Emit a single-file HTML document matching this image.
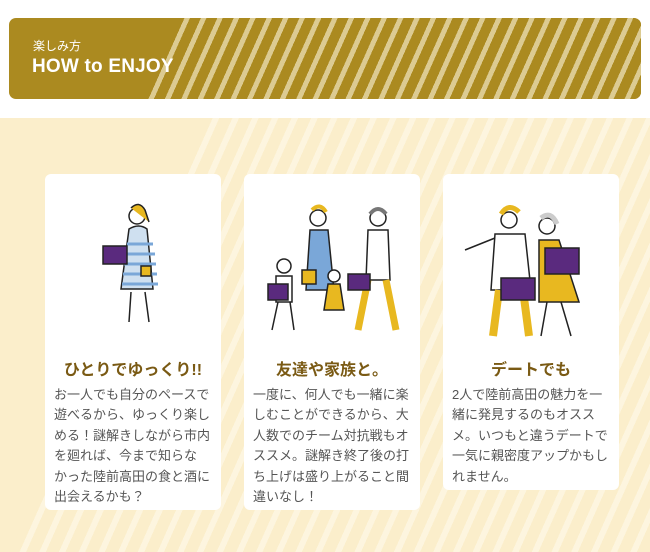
<!DOCTYPE html>
<html><head><meta charset="utf-8"><style>
*{margin:0;padding:0;box-sizing:border-box}
body{width:650px;height:552px;background:#fff;position:relative;overflow:hidden;font-family:"Liberation Sans","Noto Sans CJK JP",sans-serif}
.banner{position:absolute;left:9px;top:18px;width:632px;height:81px;border-radius:7px;background:#ab8a20;overflow:hidden}
.bstr{position:absolute;left:0;top:0;width:632px;height:81px;background:repeating-linear-gradient(-66deg,#ab8a20 0 10px,#dccb92 10px 15px);clip-path:polygon(167px 0,632px 0,632px 81px,132px 81px)}
.sub{position:absolute;left:24px;top:19px;color:#fff;font-size:12px}
.ttl{position:absolute;left:23px;top:38px;color:#fff;font-size:19px;font-weight:bold;letter-spacing:.2px}
.lower{position:absolute;left:0;top:118px;width:650px;height:434px;background:repeating-linear-gradient(-66deg,#fbeecb 0 12px,#fdf5df 12px 18px)}
.lower:before{content:"";position:absolute;left:0;top:0;width:200px;height:434px;background:#fbeecb;clip-path:polygon(0 0,200px 0,10px 434px,0 434px)}
.card{position:absolute;background:#fff;border-radius:6px;width:176px}
.card h3{position:absolute;left:0;width:176px;top:182px;text-align:center;color:#7a5a14;font-size:16px;font-weight:bold}
.card p{position:absolute;left:9px;top:211px;width:166px;color:#555;font-size:13px;line-height:20.4px;white-space:nowrap}
svg{position:absolute;left:0;top:0}
</style></head><body>
<div class="banner"><div class="bstr"></div><div class="sub">楽しみ方</div><div class="ttl">HOW to ENJOY</div></div>
<div class="lower"></div>
<div class="card" style="left:45px;top:174px;height:336px">
<svg width="176" height="170"><g stroke="#222" stroke-width="1.5" fill="none">
<circle cx="92" cy="42" r="8" fill="#fff"/><path d="M86 34 q8-8 14 2 l4 12" fill="#e8b820"/>
<path d="M84 55 q10-6 18 0 l6 60 h-32z" fill="#cfe0f0"/>
<path d="M82 70 h26 M80 80 h30 M79 90 h32 M78 100 h34 M77 110 h36" stroke="#7aa7d8" stroke-width="3"/>
<path d="M86 118 l-2 30 M100 118 l4 30"/><rect x="58" y="72" width="24" height="18" fill="#5a2a7e"/>
<rect x="96" y="92" width="10" height="10" fill="#e8b820"/></g></svg>
<h3>ひとりでゆっくり!!</h3><p>お一人でも自分のペースで<br>遊べるから、ゆっくり楽し<br>める！謎解きしながら市内<br>を廻れば、今まで知らな<br>かった陸前高田の食と酒に<br>出会えるかも？</p></div>
<div class="card" style="left:244px;top:174px;height:336px">
<svg width="176" height="170"><g stroke="#222" stroke-width="1.5" fill="none">
<circle cx="74" cy="44" r="8" fill="#fff"/><path d="M68 36 q8-8 14 2" stroke="#e8b820" stroke-width="4"/>
<path d="M66 56 h18 l6 60 h-28z" fill="#7aa7d8"/>
<circle cx="134" cy="44" r="8" fill="#fff"/><path d="M126 40 q8-10 16 0" stroke="#777" stroke-width="4"/>
<path d="M124 56 h20 l2 50 h-24z" fill="#fff"/><path d="M124 106 l-10 50 M142 106 l10 50" stroke="#e8b820" stroke-width="7"/>
<circle cx="40" cy="92" r="7" fill="#fff"/><path d="M32 102 h16 v26 h-16z" fill="#fff"/><path d="M34 128 l-6 28 M46 128 l4 28"/>
<circle cx="90" cy="102" r="6" fill="#fff"/><path d="M84 110 h12 l4 26 h-20z" fill="#e8b820"/>
<rect x="24" y="110" width="20" height="16" fill="#5a2a7e"/><rect x="104" y="100" width="22" height="16" fill="#5a2a7e"/>
<rect x="58" y="96" width="14" height="14" fill="#e8b820"/></g></svg>
<h3>友達や家族と。</h3><p>一度に、何人でも一緒に楽<br>しむことができるから、大<br>人数でのチーム対抗戦もオ<br>ススメ。謎解き終了後の打<br>ち上げは盛り上がること間<br>違いなし！</p></div>
<div class="card" style="left:443px;top:174px;height:316px">
<svg width="176" height="170"><g stroke="#222" stroke-width="1.5" fill="none">
<circle cx="66" cy="46" r="8" fill="#fff"/><path d="M58 40 q8-12 18-2" stroke="#e8b820" stroke-width="5"/>
<path d="M52 60 h30 l6 56 h-40z" fill="#fff"/><path d="M52 64 l-30 12"/>
<path d="M56 116 l-6 46 M80 116 l6 46" stroke="#e8b820" stroke-width="8"/>
<rect x="58" y="104" width="34" height="22" fill="#5a2a7e"/>
<circle cx="104" cy="52" r="8" fill="#fff"/><path d="M98 44 q10-8 16 6" stroke="#ccc" stroke-width="5"/>
<path d="M96 66 h20 l20 62 h-40z" fill="#e8b820"/><path d="M104 128 l-6 34 M118 128 l10 34"/>
<rect x="102" y="74" width="34" height="26" fill="#5a2a7e"/></g></svg>
<h3>デートでも</h3><p>2人で陸前高田の魅力を一<br>緒に発見するのもオスス<br>メ。いつもと違うデートで<br>一気に親密度アップかもし<br>れません。</p></div>
</body></html>
